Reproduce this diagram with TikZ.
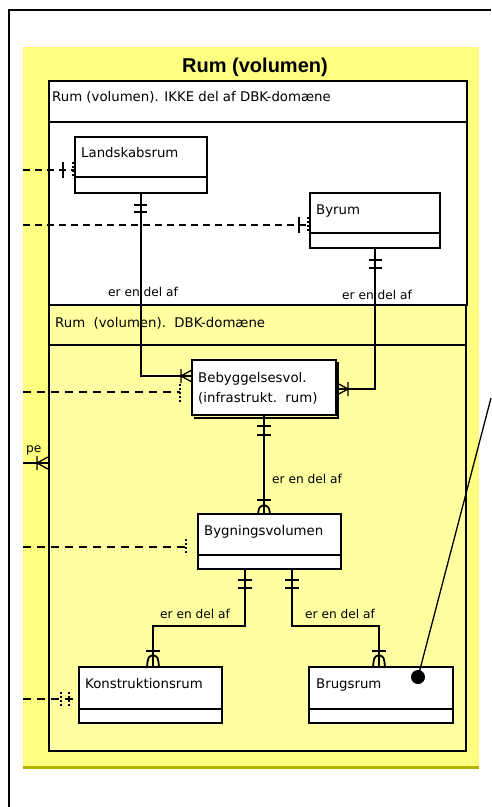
\documentclass[tikz,border=0pt]{standalone}
\usepackage{fontspec}
\setmainfont{DejaVu Sans}
\newfontfamily\titlefont{Liberation Sans}
\definecolor{yelA}{HTML}{FFFF80}
\definecolor{yelB}{HTML}{FFFFA2}
\definecolor{olv}{HTML}{B4B400}
\begin{document}
\begin{tikzpicture}[x=1pt,y=-1pt,
  box/.style={draw,anchor=north west,inner sep=0pt,outer sep=0pt},
  ent/.style={box,line width=1.3pt,fill=white},
  entb/.style={box,line width=2pt,fill=white},
  txt/.style={font=\fontsize{13.3}{15}\selectfont,inner sep=0pt,anchor=base west},
  rel/.style={font=\fontsize{12.2}{14}\selectfont,inner sep=0pt,anchor=base west},
  thinln/.style={line width=1.3pt},
  thickln/.style={line width=2.4pt},
  dthin/.style={line width=1.3pt,dash pattern=on 7pt off 5pt},
  dthick/.style={line width=2.4pt,dash pattern=on 8pt off 6pt},
  dots/.style={dash pattern=on 2pt off 2pt}]
\useasboundingbox (0,0) rectangle (491,807);
\fill[white] (0,0) rectangle (491,807);
\fill[yelA] (23,47) rectangle (479,768);
\draw[olv,line width=3pt] (23,767) -- (479,767);
\draw[line width=2pt] (9,807) -- (9,10) -- (491,10);
\node[font=\titlefont\bfseries\fontsize{20}{24}\selectfont,inner sep=0pt,anchor=base] (title) at (255,72) {Rum (volumen)};
% containers
\node[box,line width=1.5pt,fill=white,minimum width=418pt,minimum height=224pt] (upper) at (49,81) {};
\draw[line width=1.3pt] (49,122) -- (467,122);
\node[txt] (uppert) at (52,101) {Rum (volumen). IKKE del af DBK-domæne};
\node[box,line width=2pt,fill=yelB,minimum width=417pt,minimum height=446pt] (lower) at (49,305) {};
\draw[line width=2pt] (49,345) -- (466,345);
\node[txt] (lowert) at (55,327) {Rum\ \ (volumen).\ \ DBK-domæne};
% entities
\node[ent,minimum width=132pt,minimum height=56pt] (land) at (75,137) {};
\draw[thinln] (75,177) -- (207,177);
\node[txt] (landt) at (81,157) {Landskabsrum};
\node[ent,minimum width=130pt,minimum height=55pt] (byr) at (310,193) {};
\draw[thinln] (310,233) -- (440,233);
\node[txt] (byrt) at (316,214) {Byrum};
\draw[line width=1.5pt] (194,418) -- (338,418) -- (338,362);
\node[entb,minimum width=144pt,minimum height=55pt] (beb) at (192,360) {};
\node[txt] (bebt1) at (198,382) {Bebyggelsesvol.};
\node[txt] (bebt2) at (198,402) {(infrastrukt.\ \ rum)};
\node[entb,minimum width=143pt,minimum height=55pt] (byg) at (198,514) {};
\draw[line width=2pt] (198,555) -- (341,555);
\node[txt] (bygt) at (204,535) {Bygningsvolumen};
\node[entb,minimum width=143pt,minimum height=56pt] (kon) at (79,667) {};
\draw[line width=2pt] (79,709) -- (222,709);
\node[txt] (kont) at (85,688) {Konstruktionsrum};
\node[entb,minimum width=144pt,minimum height=56pt] (brug) at (309,667) {};
\draw[line width=2pt] (309,709) -- (453,709);
\node[txt] (brugt) at (316,688) {Brugsrum};
% off-picture ends
\coordinate (e1) at (23,170);
\coordinate (e2) at (23,225);
\coordinate (e3) at (23,392);
\coordinate (e4) at (23,463);
\coordinate (e5) at (23,547);
\coordinate (e6) at (23,699);
\coordinate (nte) at (491,398);
% relations
\draw[thinln] (land.south) |- ([yshift=-16pt]beb.north west);
\draw[thinln] (byr.south) |- ([yshift=-29pt]beb.north east);
\draw[thickln] (beb.south) -- (beb.south |- byg.north);
\draw[thickln] ([xshift=47pt]byg.south west) -- ++(0,57) -| ([xshift=2.5pt]kon.north);
\draw[thickln] ([xshift=94pt]byg.south west) -- ++(0,57) -| ([xshift=-2pt]brug.north);
\draw[dthin] (e1) -- ([yshift=-33pt]land.north west);
\draw[dthin] (e2) -- ([yshift=-32pt]byr.north west);
\draw[dthick] (e3) -- ([xshift=-12pt,yshift=-32pt]beb.north west);
\draw[thinln] (e4) -- ([yshift=-158pt]lower.north west);
\draw[dthick] (e5) -- ([xshift=-12pt,yshift=-33pt]byg.north west);
\draw[dthick] (e6) -- ([yshift=-32pt]kon.north west);
% labels
\node[rel] (r1) at (108,296) {er en del af};
\node[rel] (r2) at (342,299) {er en del af};
\node[rel] (r3) at (272,483) {er en del af};
\node[rel] (r4) at (160,618) {er en del af};
\node[rel] (r5) at (305,618) {er en del af};
\node[rel] (pe) at (26,452) {pe};
% markers thin
\draw[thinln] (134,205)--(147,205) (134,212)--(147,212);
\draw[thinln] (369,260)--(382,260) (369,268)--(382,268);
\draw[thinln] (181,369)--(181,383) (181,376)--(192,370) (181,376)--(192,382);
\draw[thinln] (348,382)--(348,396) (348,389)--(337,383) (348,389)--(337,395);
\draw[thinln] (37,456)--(37,470) (37,463)--(48,457) (37,463)--(48,469);
% markers thick
\draw[thickln] (257,426)--(271,426) (257,435)--(271,435);
\draw[thickln] (238,580)--(252,580) (238,588)--(252,588);
\draw[thickln] (285,580)--(299,580) (285,588)--(299,588);
\draw[thickln] (257,500)--(271,500);
\draw[line width=1.8pt] (264,505) .. controls (259,507) .. (258,514) (264,505) .. controls (269,507) .. (270,514);
\draw[thickln] (146,651)--(160,651);
\draw[line width=1.8pt] (153,655) .. controls (148,657) .. (147,667) (153,655) .. controls (158,657) .. (159,667);
\draw[thickln] (372,651)--(386,651);
\draw[line width=1.8pt] (379,655) .. controls (374,657) .. (373,667) (379,655) .. controls (384,657) .. (385,667);
% dashed-end markers
\draw[thinln] (63,162)--(63,178);
\draw[thinln,dots] (73,162)--(73,178);
\draw[thinln] (299,217)--(299,233);
\draw[thinln,dots] (308,217)--(308,233);
\draw[line width=2.2pt,dots] (180,384)--(180,402);
\draw[line width=2.2pt,dots] (186,539)--(186,555);
\draw[line width=2.2pt,dots] (61,692)--(61,706);
\draw[line width=2.2pt,dots] (69,692)--(69,706);
% note pointer
\node[circle,fill=black,inner sep=0pt,minimum size=14pt] (dot) at (418,677) {};
\draw[line width=1.3pt] (dot.center) -- (nte);
\end{tikzpicture}
\end{document}
